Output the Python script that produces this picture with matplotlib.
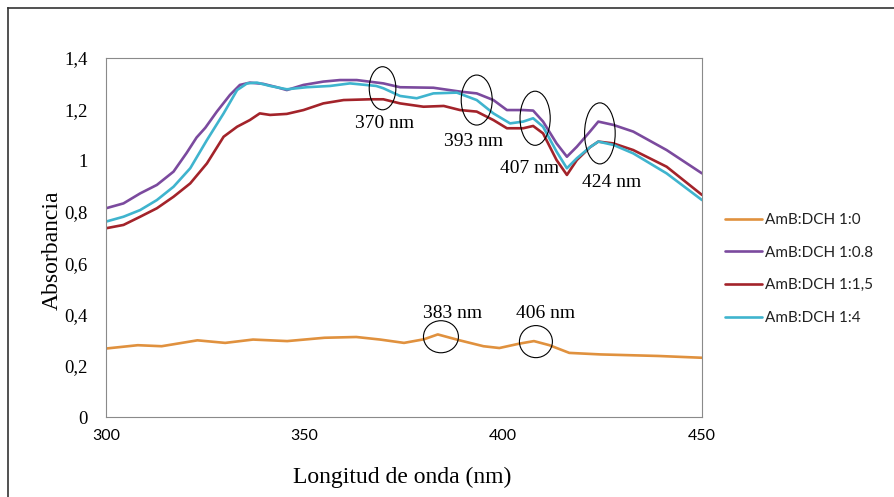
import matplotlib
matplotlib.use("Agg")
import matplotlib.pyplot as plt
from matplotlib.patches import Ellipse
from matplotlib.lines import Line2D

# ── Data ──────────────────────────────────────────────────────────────────────
wl_1_0 = [300, 308, 314, 323, 330, 337, 345.6, 355, 363, 369, 375, 380, 383.5,
          389, 395, 399, 404, 407.7, 411.6, 416.6, 424.5, 439, 450]
abs_1_0 = [0.267, 0.280, 0.276, 0.299, 0.289, 0.302, 0.296, 0.309, 0.312, 0.302,
           0.289, 0.303, 0.322, 0.299, 0.276, 0.269, 0.286, 0.296, 0.280, 0.250,
           0.244, 0.238, 0.231]

wl_1_08 = [300, 304.4, 308.6, 312.8, 317, 320.3, 322.8, 325, 327.9, 331.2, 333.7,
           336.2, 339.6, 343, 345.5, 349.7, 354.7, 358.9, 363.1, 369.8, 374, 382.4,
           389.1, 393.3, 397.5, 400.9, 405, 407.5, 410, 413.4, 416, 418.5, 421.8,
           423.9, 427.7, 432.7, 441.1, 450]
abs_1_08 = [0.814, 0.833, 0.872, 0.905, 0.957, 1.030, 1.090, 1.128, 1.191, 1.256,
            1.295, 1.304, 1.299, 1.286, 1.275, 1.295, 1.308, 1.314, 1.314, 1.301,
            1.286, 1.284, 1.269, 1.262, 1.236, 1.197, 1.197, 1.195, 1.152, 1.067,
            1.015, 1.054, 1.113, 1.152, 1.139, 1.113, 1.041, 0.950]

wl_1_15 = [300, 304.4, 308.6, 312.8, 317, 321.2, 325.4, 329.6, 333, 336.2, 338.7,
           341.3, 345.5, 349.7, 354.7, 359.8, 366.5, 369.8, 374, 379.9, 385, 389.1,
           393.3, 397.5, 400.9, 405, 407.5, 410, 413.4, 416, 418.5, 421.8, 423.9,
           427.7, 432.7, 441.1, 450]
abs_1_15 = [0.736, 0.749, 0.781, 0.814, 0.859, 0.911, 0.989, 1.093, 1.132, 1.158,
            1.184, 1.178, 1.182, 1.197, 1.223, 1.236, 1.239, 1.239, 1.223, 1.210,
            1.213, 1.197, 1.191, 1.158, 1.126, 1.126, 1.135, 1.106, 1.002, 0.944,
            1.002, 1.052, 1.074, 1.067, 1.041, 0.976, 0.866]

wl_1_4 = [300, 304.4, 308.6, 312.8, 317, 321.2, 325.4, 329.6, 333, 335.5, 338,
          341.3, 345.5, 350.5, 356.4, 361.4, 368, 369.8, 374, 378.2, 382.4, 388.3,
          393.3, 397.5, 401.7, 405, 407.5, 410, 413.4, 416, 418.5, 421.8, 423.9,
          427.7, 432.7, 441.1, 450]
abs_1_4 = [0.762, 0.781, 0.807, 0.846, 0.898, 0.970, 1.080, 1.184, 1.275, 1.301,
           1.304, 1.291, 1.278, 1.286, 1.291, 1.301, 1.291, 1.282, 1.252, 1.243,
           1.262, 1.265, 1.236, 1.184, 1.145, 1.152, 1.165, 1.132, 1.035, 0.970,
           1.009, 1.052, 1.074, 1.061, 1.028, 0.950, 0.846]

series_labels = ["AmB:DCH 1:0", "AmB:DCH 1:0.8", "AmB:DCH 1:1,5", "AmB:DCH 1:4"]
series_colors = ["#E0913E", "#7B4A9E", "#A3232A", "#3FB4CE"]

# circled bands: ellipse centre / size (data units) and the label spot
band_labels = ["370 nm", "393 nm", "407 nm", "424 nm", "383 nm", "406 nm"]
band_cx = [369.6, 393.3, 408.0, 424.3, 384.3, 408.2]
band_cy = [1.282, 1.236, 1.165, 1.106, 0.313, 0.294]
band_w = [6.7, 7.8, 7.6, 7.7, 8.8, 8.3]
band_h = [0.168, 0.195, 0.211, 0.238, 0.125, 0.125]
label_x = [370.0, 392.5, 406.5, 427.2, 387.1, 410.6]
label_y = [1.143, 1.074, 0.969, 0.913, 0.402, 0.402]

y_ticks = [0, 0.2, 0.4, 0.6, 0.8, 1.0, 1.2, 1.4]
y_ticklabels = ["0", "0,2", "0,4", "0,6", "0,8", "1", "1,2", "1,4"]
x_ticks = [300, 350, 400, 450]

SERIF = "Liberation Serif"
SANS = "Lato"

# ── Figure ────────────────────────────────────────────────────────────────────
W, H = 894, 497
fig = plt.figure(figsize=(W / 100, H / 100), dpi=100)
ax = fig.add_axes([106 / W, 1 - 417 / H, (702 - 106) / W, (417 - 58) / H])

xs = [wl_1_0, wl_1_08, wl_1_15, wl_1_4]
ys = [abs_1_0, abs_1_08, abs_1_15, abs_1_4]
for x, y, lab, col in zip(xs, ys, series_labels, series_colors):
    ax.plot(x, y, color=col, lw=1.9, label=lab,
            solid_capstyle="round", solid_joinstyle="round")

ax.set_xlim(300, 450)
ax.set_ylim(0, 1.4)
ax.set_xticks(x_ticks)
ax.set_xticklabels([str(t) for t in x_ticks], family=SANS, fontsize=11.5)
ax.set_yticks(y_ticks)
ax.set_yticklabels(y_ticklabels, family=SERIF, fontsize=13.5)
ax.tick_params(axis="both", length=0)
ax.tick_params(axis="x", pad=9)
ax.tick_params(axis="y", pad=13)
for sp in ax.spines.values():
    sp.set_color("#8a8a8a")
    sp.set_linewidth(0.8)

# circled bands
for cx, cy, w, h in zip(band_cx, band_cy, band_w, band_h):
    ax.add_patch(Ellipse((cx, cy), w, h, fill=False, edgecolor="black", lw=0.8, zorder=5))
for t, lx, ly in zip(band_labels, label_x, label_y):
    ax.text(lx, ly, t, ha="center", va="center", family=SERIF, fontsize=14, zorder=6)

# axis titles
fig.text(402 / W, 1 - 483 / H, "Longitud de onda (nm)", ha="center", va="baseline",
         family=SERIF, fontsize=17)
fig.text(52 / W, 1 - 250 / H, "Absorbancia", ha="center", va="center",
         rotation=90, family=SERIF, fontsize=17)

# legend at the right of the plot area
leg = ax.legend(loc="upper left", bbox_to_anchor=(725 / W, 1 - 213 / H),
                bbox_transform=fig.transFigure, frameon=False, borderpad=0,
                borderaxespad=0, handlelength=2.4, handletextpad=0.2,
                labelspacing=1.22, prop={"family": SANS, "size": 11})
for txt in leg.get_texts():
    txt.set_color("#222222")

# outer chart frame (only left and top edges show in the crop)
fig.add_artist(Line2D([8 / W, 8 / W], [0, 1 - 8 / H], color="#333333", lw=1.2))
fig.add_artist(Line2D([8 / W, 1], [1 - 8 / H, 1 - 8 / H], color="#333333", lw=1.2))

fig.savefig("out.png", dpi=100)
